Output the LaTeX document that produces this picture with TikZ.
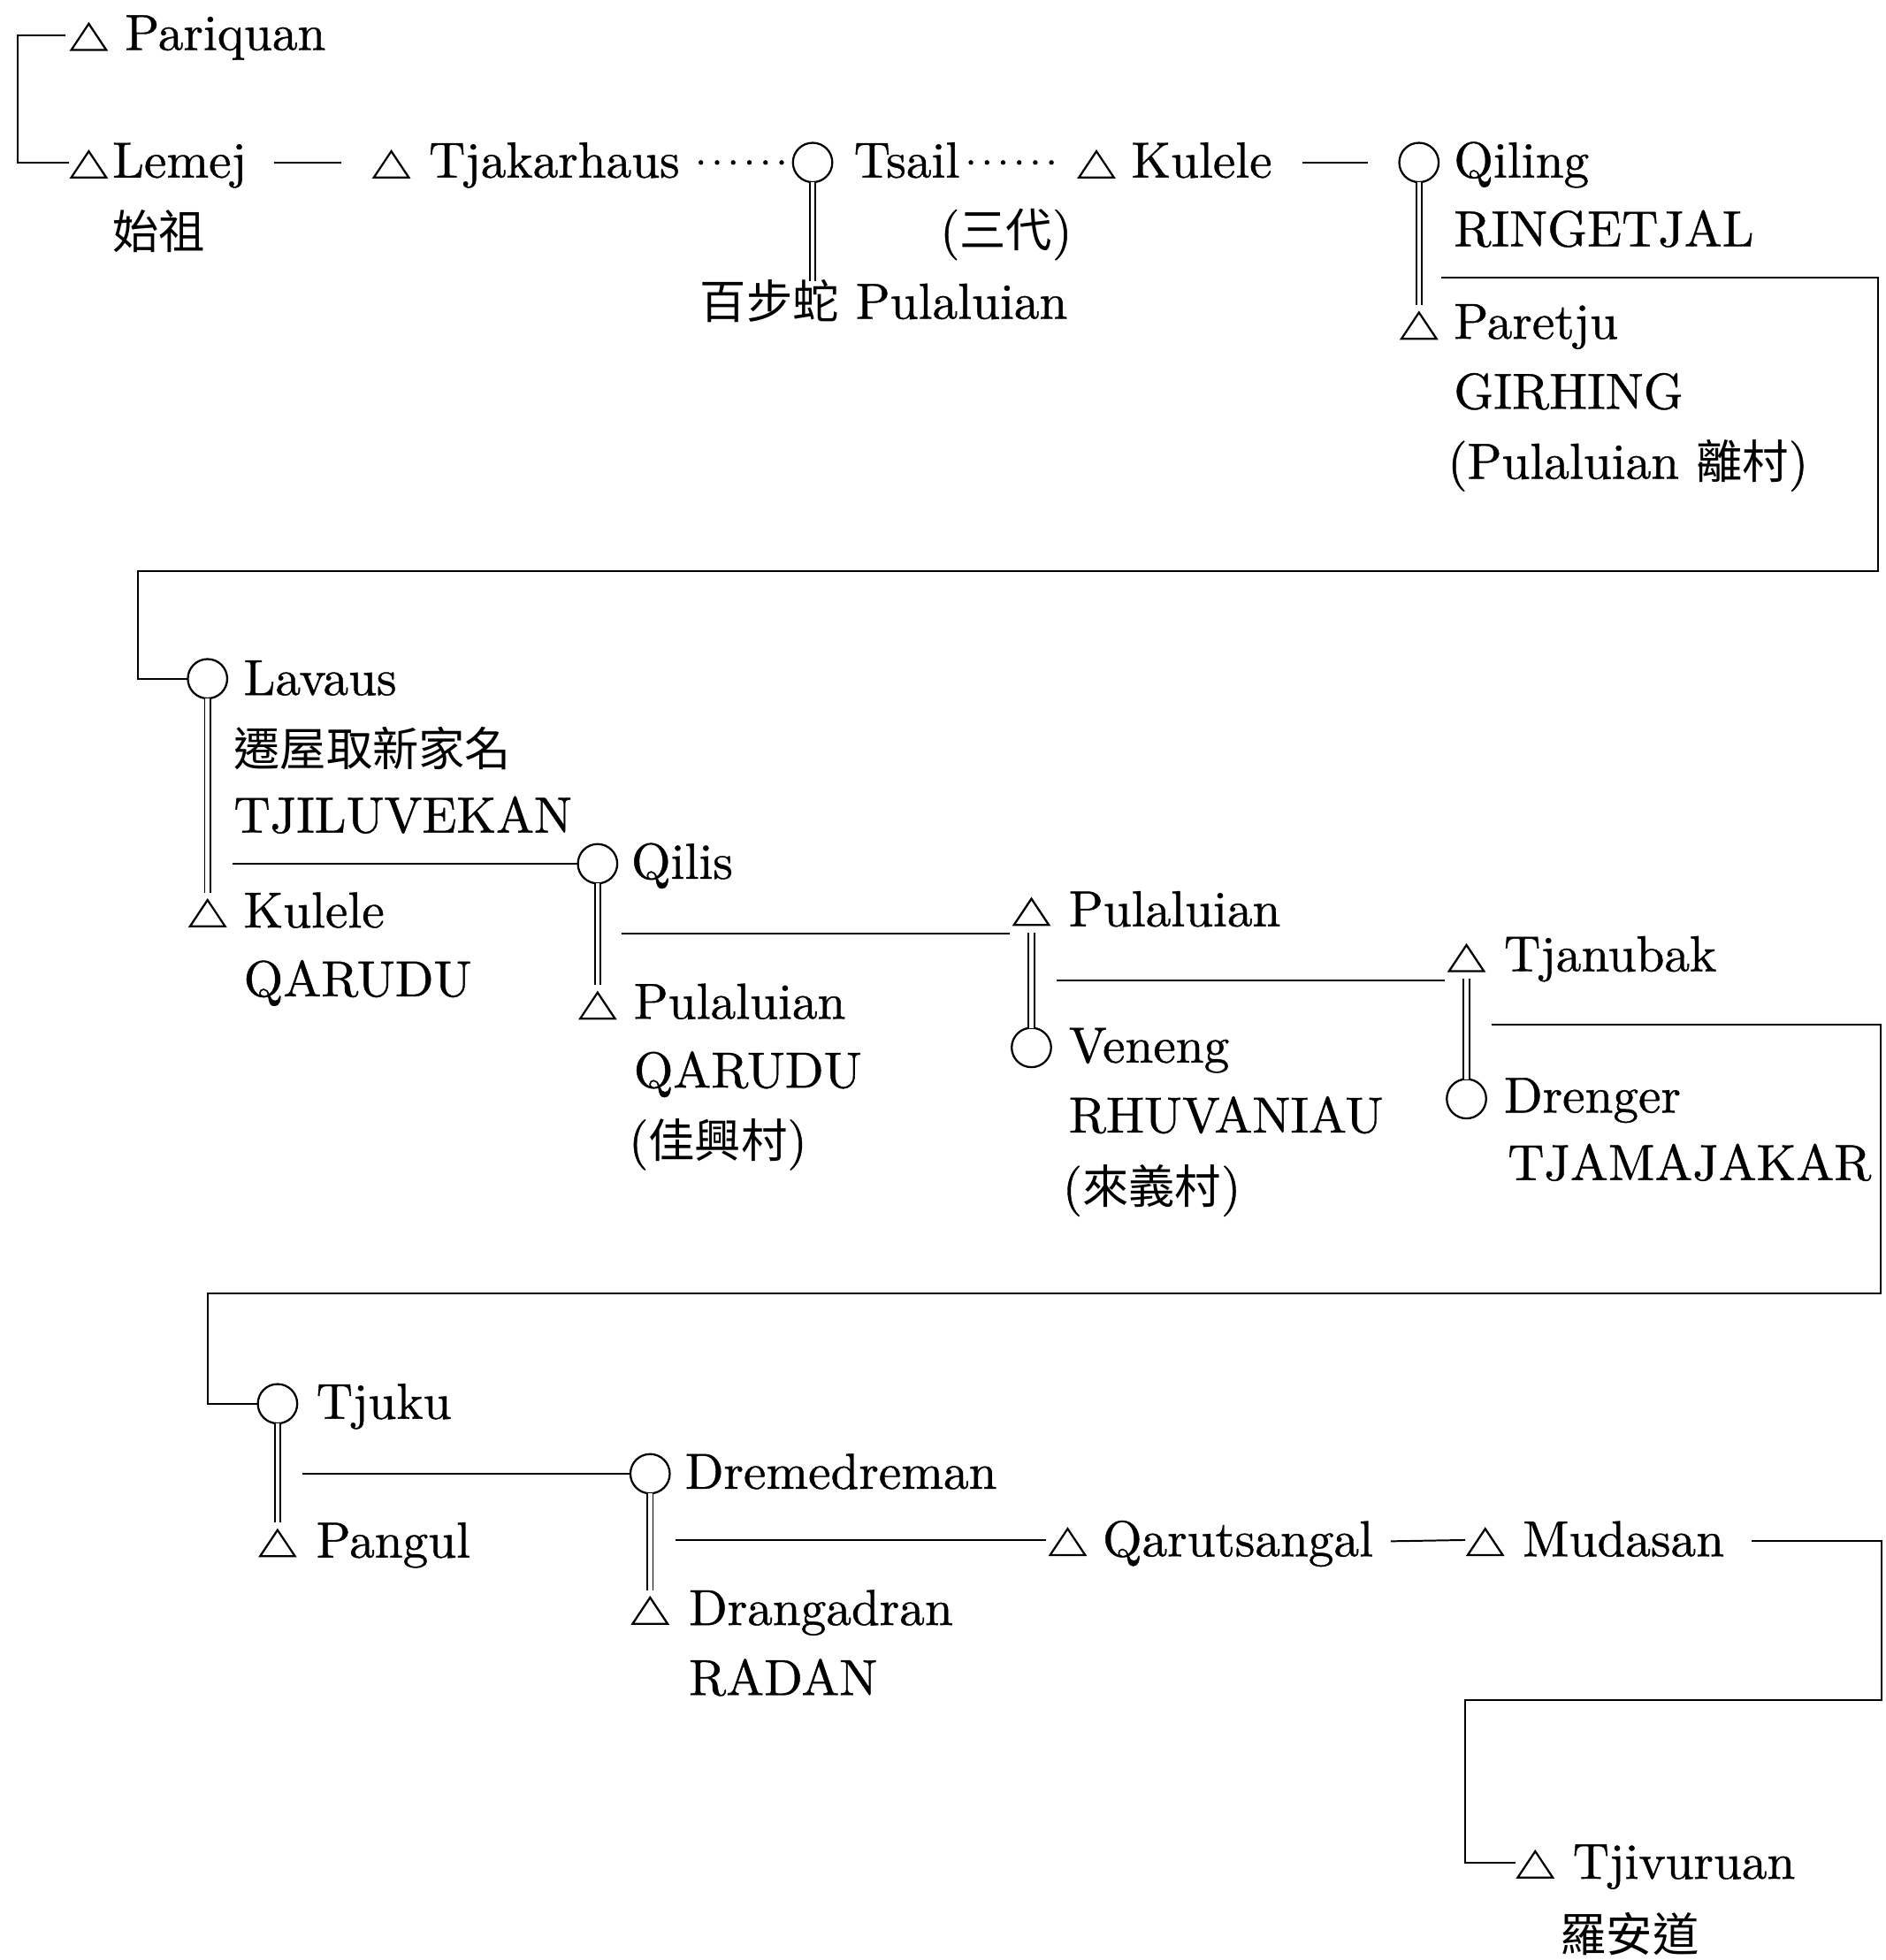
\documentclass[tikz,border=0pt]{standalone}
\usepackage{fontspec}
\setmainfont{lmroman10-regular.otf}[FakeBold=0.7]
\newfontfamily\cjk{Noto Sans CJK TC}
\usetikzlibrary{calc}
\newcommand\zh[1]{{\fontsize{37}{44}\selectfont\cjk #1}}
\tikzset{
  lbl/.style={anchor=base west, inner sep=0pt, outer sep=0pt, text height=30pt, text depth=6pt,
    font=\fontsize{40.5}{48}\selectfont},
  cjklbl/.style={lbl, font=\fontsize{37}{44}\selectfont\cjk},
  msym/.style={rectangle, minimum width=28pt, minimum height=21pt,
    inner sep=0pt, outer sep=0pt, anchor=south},
  symline/.style={line width=1.6pt, line join=miter},
  female/.style={draw, circle, minimum size=31.5pt, inner sep=0pt, outer sep=0pt, line width=1.6pt},
  conn/.style={line width=1.4pt},
  spouse/.style={double, double distance=3.2pt, line width=1.3pt},
}
% a man: an open triangle standing on the given baseline point
\newcommand\Male[3]{%
  \node[msym] (#1) at (#2,#3) {};
  \draw[symline] (#1.south west) -- (#1.south east) -- (#1.north) -- cycle;}
% a woman: an open circle centred on the given point
\newcommand\Female[3]{\node[female] (#1) at (#2,#3) {};}
% six dots between two named points
\newcommand\dotrow[2]{\foreach \i in {0,...,5} \fill ($(#1)!\i/5!(#2)$) circle[radius=1.9];}

\begin{document}
\begin{tikzpicture}[x=1pt,y=-1pt]
\path[use as bounding box, fill=white] (0,0) rectangle (1508,1568);

% ---- first generations ----
\Male{pariquan}{71}{40}
\node[lbl] (pariquanT) at (100,40) {Pariquan};
\Male{lemej}{71}{142}
\node[lbl] (lemejT) at (90,142) {Lemej};
\node[cjklbl] (lemejZ) at (90,199) {始祖};
\Male{tjak}{313}{142}
\node[lbl] (tjakT) at (343,142) {Tjakarhaus};
\Female{tsail}{650}{130}
\node[lbl] (tsailT) at (683,142) {Tsail};
\node[lbl] (tsailG) at (752,198) {(\zh{三代})};
\node[lbl] (bps) at (560,255) {\zh{百步蛇} Pulaluian};
\Male{kulele}{877}{142}
\node[lbl] (kuleleT) at (905,142) {Kulele};
\Female{qiling}{1135}{130}
\node[lbl] (qilingT) at (1163,142) {Qiling};
\node[lbl] (qilingH) at (1163,197) {RINGETJAL};
\Male{paretju}{1135}{271}
\node[lbl] (paretjuT) at (1163,271) {Paretju};
\node[lbl] (paretjuH) at (1163,327) {GIRHING};
\node[lbl] (paretjuV) at (1158,383) {(Pulaluian \zh{離村})};

\coordinate (brk) at (14,80);
\draw[conn] ($(pariquan.south)+(-19,-12)$) -| (brk) |- ($(lemej.south)+(-16,-12)$);
\draw[conn] ($(lemejT.east)+(22,0)$) -- ($(tjak.south)+(-40,-12)$);
\coordinate (dA) at ($(tjakT.east)+(17,0)$);
\coordinate (dB) at ($(tsail.west)+(-9,0)$);
\dotrow{dA}{dB}
\coordinate (dC) at ($(tsailT.east)+(9,0)$);
\coordinate (dD) at ($(kulele.south)+(-36,-12)$);
\dotrow{dC}{dD}
\draw[conn] ($(kuleleT.east)+(24,0)$) -- ($(qiling.west)+(-25,0)$);
\draw[spouse] (tsail.south) -- (tsail.south |- bps.north);
\draw[spouse] (qiling.south) -- ($(paretju.north)+(0,-6)$);

% ---- Tjiluvekan house ----
\Female{lavaus}{166}{543}
\node[lbl] (lavausT) at (195,556) {Lavaus};
\node[cjklbl] (lavausZ) at (187,613) {遷屋取新家名};
\node[lbl] (lavausH) at (187,666) {TJILUVEKAN};
\Male{kulele2}{166}{741}
\node[lbl] (kulele2T) at (195,742) {Kulele};
\node[lbl] (kulele2H) at (195,797) {QARUDU};
\Female{qilis}{478}{691}
\node[lbl] (qilisT) at (505,703) {Qilis};
\Male{pul2}{478}{815}
\node[lbl] (pul2T) at (507,815) {Pulaluian};
\node[lbl] (pul2H) at (507,870) {QARUDU};
\node[lbl] (pul2V) at (503,926) {(\zh{佳興村})};
\Male{pul3}{825}{740}
\node[lbl] (pul3T) at (855,741) {Pulaluian};
\Female{veneng}{825}{838}
\node[lbl] (venengT) at (855,850) {Veneng};
\node[lbl] (venengH) at (855,906) {RHUVANIAU};
\node[lbl] (venengV) at (850,963) {(\zh{來義村})};
\Male{tjanubak}{1173}{777}
\node[lbl] (tjanubakT) at (1203,777) {Tjanubak};
\Female{drenger}{1173}{879}
\node[lbl] (drengerT) at (1203,890) {Drenger};
\node[lbl] (drengerH) at (1206,944) {TJAMAJAKAR};

\coordinate (turnA) at (1502,457);
\coordinate (turnB) at (110,457);
\draw[conn] ($(paretjuT.north west)+(-10,-19)$) -| (turnA) -- (turnB) |- (lavaus.west);

\draw[spouse] (lavaus.south) -- ($(kulele2.north)+(0,-6)$);
\draw[spouse] (qilis.south) -- ($(pul2.north)+(0,-6)$);
\draw[spouse] ($(pul3.south)+(0,6)$) -- (veneng.north);
\draw[spouse] ($(tjanubak.south)+(0,6)$) -- (drenger.north);
\draw[conn] ($(lavaus.south |- qilis.west)+(20,0)$) -- (qilis.west);
\draw[conn] ($(qilis.south |- pul3.south)+(19,7)$) -- ($(pul3.south)+(-17,7)$);
\draw[conn] ($(pul3.south |- tjanubak.south)+(20,7)$) -- ($(tjanubak.south)+(-17,7)$);

% ---- later generations ----
\Female{tjuku}{222}{1123}
\node[lbl] (tjukuT) at (253,1135) {Tjuku};
\Male{pangul}{222}{1245}
\node[lbl] (pangulT) at (253,1246) {Pangul};
\Female{dreme}{520}{1179}
\node[lbl] (dremeT) at (548,1191) {Dremedreman};
\Male{drang}{520}{1299}
\node[lbl] (drangT) at (551,1300) {Drangadran};
\node[lbl] (drangH) at (551,1356) {RADAN};
\Male{qarut}{854}{1244}
\node[lbl] (qarutT) at (882,1245) {Qarutsangal};
\Male{mudasan}{1188}{1244}
\node[lbl] (mudasanT) at (1218,1245) {Mudasan};
\Male{tjivu}{1228}{1502}
\node[lbl] (tjivuT) at (1258,1503) {Tjivuruan};
\node[cjklbl] (tjivuZ) at (1248,1561) {羅安道};

\coordinate (turnC) at (1504,1035);
\coordinate (turnD) at (166,1035);
\draw[conn] ($(tjanubak.south)+(20,43)$) -| (turnC) -- (turnD) |- (tjuku.west);

\draw[spouse] (tjuku.south) -- ($(pangul.north)+(0,-6)$);
\draw[spouse] (dreme.south) -- ($(drang.north)+(0,-6)$);
\draw[conn] ($(tjuku.south |- dreme.west)+(20,0)$) -- (dreme.west);
\draw[conn] ($(dreme.south |- qarut.south)+(20,-12)$) -- ($(qarut.south)+(-17,-12)$);
\draw[conn] ($(qarutT.east)+(14,0)$) -- ($(mudasan.south)+(-16,-12)$);

\coordinate (turnE) at (1505,1360);
\coordinate (turnF) at (1172,1360);
\draw[conn] ($(mudasanT.east)+(22,0)$) -| (turnE) -- (turnF) |- ($(tjivu.south)+(-16,-12)$);
\end{tikzpicture}
\end{document}
